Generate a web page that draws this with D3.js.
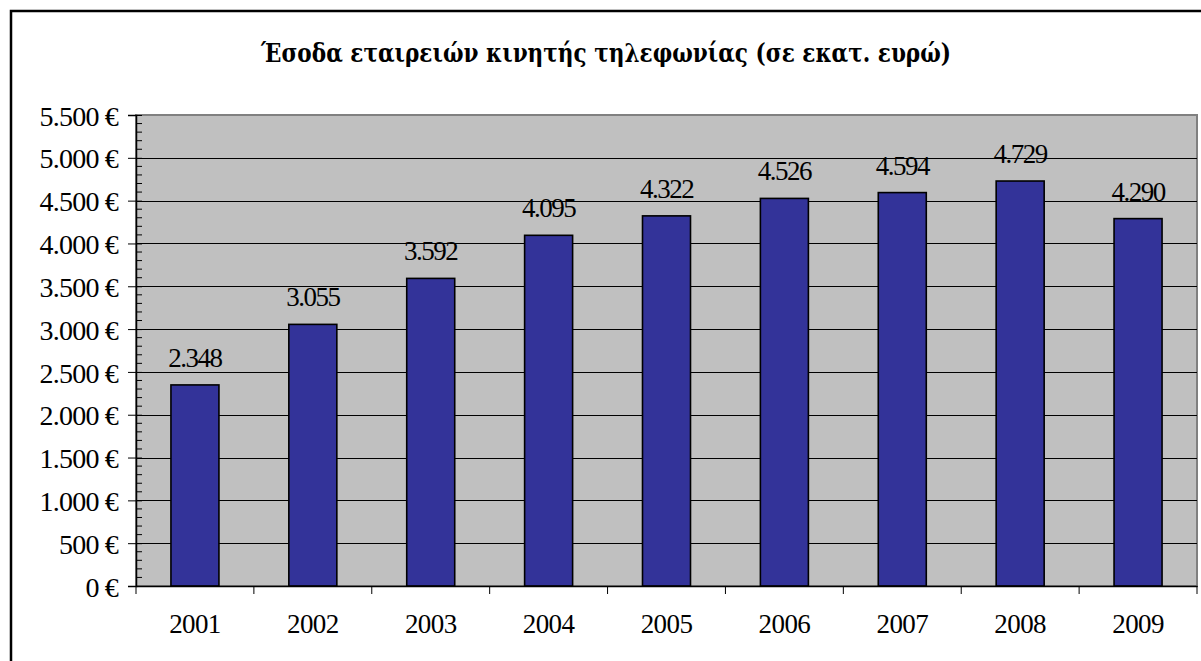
<!DOCTYPE html>
<html><head><meta charset="utf-8">
<script src="https://cdn.jsdelivr.net/npm/d3@7"></script>
<style>
html,body{margin:0;padding:0;background:#fff;}
svg{display:block;}
</style></head>
<body>
<svg id="c" width="1201" height="661"></svg>
<script>
const title = "Έσοδα εταιρειών κινητής τηλεφωνίας (σε εκατ. ευρώ)";
const years = ["2001","2002","2003","2004","2005","2006","2007","2008","2009"];
const revenue = [2348,3055,3592,4095,4322,4526,4594,4729,4290];
const yTicks = [0,500,1000,1500,2000,2500,3000,3500,4000,4500,5000,5500];

(function(){
const SERIF = "'Liberation Serif','DejaVu Serif',serif";
const svg = d3.select("#c");
const pL = 136, pR = 1197, pT = 115, pB = 586;

// outer frame (extends beyond view on right/bottom)
svg.append("rect").attr("x",11).attr("y",11).attr("width",1300).attr("height",800)
  .attr("fill","#fff").attr("stroke","#000").attr("stroke-width",2.5);

svg.append("text").attr("x",606).attr("y",62).attr("text-anchor","middle")
  .attr("font-family","'DejaVu Serif', serif").attr("font-size",26).attr("font-weight",700)
  .attr("fill","#000")
  .attr("textLength",690).attr("lengthAdjust","spacingAndGlyphs")
  .text(title);

const xb = d3.scaleBand().domain(years).range([pL,pR]);
const y = d3.scaleLinear().domain([0,5500]).range([pB,pT]);

// plot area
svg.append("rect").attr("x",pL).attr("y",pT).attr("width",pR-pL).attr("height",pB-pT)
  .attr("fill","#c0c0c0").attr("stroke","#808080").attr("stroke-width",2);

// gridlines
svg.append("g").selectAll("line").data(yTicks.filter(d=>d>0 && d<5500)).join("line")
  .attr("x1",pL).attr("x2",pR).attr("y1",d=>Math.round(y(d))+0.5).attr("y2",d=>Math.round(y(d))+0.5)
  .attr("stroke","#000").attr("stroke-width",1);

// bars
svg.append("g").selectAll("rect").data(revenue).join("rect")
  .attr("x",(d,i)=>xb(years[i])+xb.bandwidth()/2-24)
  .attr("width",48)
  .attr("y",d=>y(d)).attr("height",d=>pB-y(d))
  .attr("fill","#333399").attr("stroke","#000").attr("stroke-width",1.6);

// value labels
const fmt = d3.formatLocale({decimal:",",thousands:".",grouping:[3]}).format(",d");
svg.append("g").selectAll("text").data(revenue).join("text")
  .attr("x",(d,i)=>xb(years[i])+xb.bandwidth()/2)
  .attr("y",d=>y(d)-18).attr("text-anchor","middle").attr("fill","#000")
  .style("font-family",SERIF).style("font-size","27px").style("letter-spacing","-1.5px")
  .text(d=>fmt(d));

// y axis
const yAxis = d3.axisLeft(y).tickValues(yTicks).tickSize(8).tickPadding(10)
  .tickFormat(d=>fmt(d)+" €");
const gy = svg.append("g").attr("transform",`translate(${pL},0)`).call(yAxis);
gy.select(".domain").attr("stroke","#000").attr("stroke-width",1.5);
gy.selectAll(".tick line").attr("stroke","#000").attr("x2",-8).attr("x1",6);
gy.selectAll(".tick text").attr("fill","#000").attr("dy","0.36em")
  .style("font-family",SERIF).style("font-size","28px").style("letter-spacing","-0.8px");
// minor ticks
const minor = d3.range(0,5501,100).filter(d=>d%500!==0);
svg.append("g").selectAll("line").data(minor).join("line")
  .attr("x1",pL).attr("x2",pL+6).attr("y1",d=>y(d)).attr("y2",d=>y(d))
  .attr("stroke","#000").attr("stroke-width",1);

// x axis
const xAxis = d3.axisBottom(xb).tickSize(0).tickPadding(28);
const gx = svg.append("g").attr("transform",`translate(0,${pB})`).call(xAxis);
gx.select(".domain").attr("stroke","#000").attr("stroke-width",1.5);
gx.selectAll(".tick text").attr("fill","#000")
  .style("font-family",SERIF).style("font-size","27px").style("letter-spacing","-0.6px");
// category separator ticks
svg.append("g").selectAll("line").data(years).join("line")
  .attr("x1",d=>xb(d)+xb.bandwidth()).attr("x2",d=>xb(d)+xb.bandwidth())
  .attr("y1",pB).attr("y2",pB+8).attr("stroke","#000").attr("stroke-width",1);
svg.append("line").attr("x1",pL).attr("x2",pL).attr("y1",pB).attr("y2",pB+8).attr("stroke","#000");
})();
</script>
</body></html>
